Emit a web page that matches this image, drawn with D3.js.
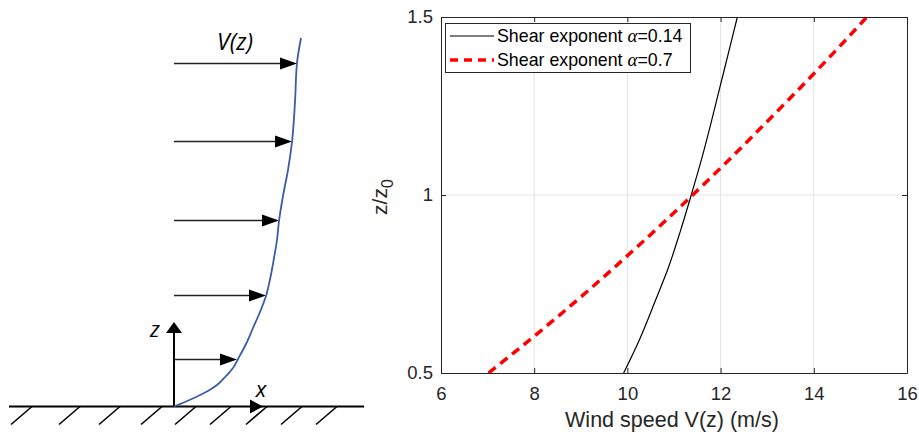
<!DOCTYPE html>
<html>
<head>
<meta charset="utf-8">
<script src="https://cdn.jsdelivr.net/npm/d3@7"></script>
<style>
body { margin: 0; background: #fff; }
svg { display: block; font-family: "Liberation Sans", Arial, sans-serif; }
</style>
</head>
<body>
<div id="chart"></div>
<script>
// Right panel: height ratio z/z0 and wind speed
var zRatio = [0.5, 0.6, 0.7, 0.8, 0.9, 1.0, 1.1, 1.2, 1.3, 1.4, 1.5];
var speedLow = [9.92, 10.28, 10.59, 10.89, 11.14, 11.37, 11.59, 11.79, 11.98, 12.17, 12.36];   // alpha = 0.14
var speedHigh = [7.02, 7.97, 8.88, 9.75, 10.59, 11.40, 12.19, 12.95, 13.70, 14.43, 15.14];   // alpha = 0.7
var xTicks = [6, 8, 10, 12, 14, 16];
var yTicks = [0.5, 1, 1.5];
var seriesNames = ["Shear exponent ", "Shear exponent "];
var seriesAlpha = ["=0.14", "=0.7"];

// Left sketch: profile shape and velocity arrows (sketch units)
var profileH = [0, 4.5, 9.5, 15, 21.5, 30.5, 38.5, 47.5, 62.5, 78.5, 94.5, 110.5, 129.5, 148.5, 166.5, 185.5, 210.5, 236.5, 264.5, 304.5, 343.5, 368.5];
var profileV = [0, 11, 22, 33, 43, 52, 59, 64, 72, 79, 86, 92, 96.5, 100, 103, 105, 109, 114, 118, 121, 123, 127];
var arrowH = [343, 265, 186, 111, 47];
var arrowV = [123, 118, 105, 92, 63];
var hatchX = [32, 80, 120, 162, 196, 231, 267, 302, 337];

var svgWidth = 919;
var svgHeight = 434;

var svg = d3.select("#chart").append("svg")
    .attr("width", svgWidth)
    .attr("height", svgHeight);

svg.append("rect").attr("width", svgWidth).attr("height", svgHeight).attr("fill", "#fff");

// ---------- left sketch ----------
var sketch = svg.append("g");
var sx = d3.scaleLinear().domain([0, 130]).range([174, 304]);
var sz = d3.scaleLinear().domain([0, 370]).range([406.5, 36.5]);

function head(g, tipX, tipY, dx, dy, len, half) {
    // dx, dy: unit direction of the arrow
    var bx = tipX - dx * len, by = tipY - dy * len;
    var px = -dy * half, py = dx * half;
    g.append("path")
        .attr("d", `M${tipX},${tipY}L${bx + px},${by + py}L${bx - px},${by - py}Z`)
        .attr("fill", "#000");
}

// ground and hatching
sketch.append("line")
    .attr("x1", 9).attr("x2", 364)
    .attr("y1", sz(0)).attr("y2", sz(0))
    .attr("stroke", "#000").attr("stroke-width", 2);

sketch.selectAll(".hatch")
    .data(hatchX)
    .enter()
    .append("line")
    .attr("class", "hatch")
    .attr("x1", d => d).attr("y1", sz(0))
    .attr("x2", d => d - 21).attr("y2", sz(0) + 18)
    .attr("stroke", "#000").attr("stroke-width", 1.6);

// coordinate axes
sketch.append("line")
    .attr("x1", sx(0)).attr("x2", sx(0))
    .attr("y1", sz(0)).attr("y2", 332)
    .attr("stroke", "#000").attr("stroke-width", 2);
head(sketch, sx(0), 322, 0, -1, 11, 8);
head(sketch, 263, sz(0), 1, 0, 13, 7);

sketch.append("text")
    .attr("x", 155).attr("y", 337)
    .attr("text-anchor", "middle")
    .attr("font-family", "Open Sans, sans-serif")
    .attr("font-size", 22)
    .attr("font-style", "italic")
    .text("z");

sketch.append("text")
    .attr("x", 261).attr("y", 397)
    .attr("text-anchor", "middle")
    .attr("font-family", "Open Sans, sans-serif")
    .attr("font-size", 22)
    .attr("font-style", "italic")
    .text("x");

sketch.append("text")
    .attr("x", 235).attr("y", 50)
    .attr("text-anchor", "middle")
    .attr("font-family", "Open Sans, sans-serif")
    .attr("font-size", 23)
    .attr("font-style", "italic")
    .text("V(z)");

// velocity arrows
arrowH.forEach(function(h, i) {
    var y = sz(h);
    var tip = sx(arrowV[i]);
    sketch.append("line")
        .attr("x1", sx(0)).attr("x2", tip - 10)
        .attr("y1", y).attr("y2", y)
        .attr("stroke", "#222").attr("stroke-width", 1.3);
    head(sketch, tip, y, 1, 0, 17, 6);
});

// profile curve
var profile = profileH.map((h, i) => ({h: h, v: profileV[i]}));
sketch.append("path")
    .datum(profile)
    .attr("d", d3.line().x(d => sx(d.v)).y(d => sz(d.h)).curve(d3.curveMonotoneY))
    .attr("fill", "none")
    .attr("stroke", "#3b5ca6")
    .attr("stroke-width", 1.8);

// ---------- right chart ----------
var margins = {left: 441, top: 17, right: 907, bottom: 373};
var x = d3.scaleLinear().domain([6, 16]).range([margins.left, margins.right]);
var y = d3.scaleLinear().domain([0.5, 1.5]).range([margins.bottom, margins.top]);
var axisColor = "#262626";

var chartGroup = svg.append("g");

// grid
chartGroup.selectAll(".xgrid")
    .data(xTicks.slice(1, -1))
    .enter()
    .append("line")
    .attr("x1", d => x(d)).attr("x2", d => x(d))
    .attr("y1", y(0.5)).attr("y2", y(1.5))
    .attr("stroke", "#e3e3e3").attr("stroke-width", 1);

chartGroup.selectAll(".ygrid")
    .data(yTicks.slice(1, -1))
    .enter()
    .append("line")
    .attr("x1", x(6)).attr("x2", x(16))
    .attr("y1", d => y(d)).attr("y2", d => y(d))
    .attr("stroke", "#e3e3e3").attr("stroke-width", 1);

// curves
var lowData = zRatio.map((z, i) => ({z: z, v: speedLow[i]}));
var highData = zRatio.map((z, i) => ({z: z, v: speedHigh[i]}));
var lineGen = d3.line().x(d => x(d.v)).y(d => y(d.z)).curve(d3.curveMonotoneY);

chartGroup.append("path")
    .datum(lowData)
    .attr("d", lineGen)
    .attr("fill", "none")
    .attr("stroke", "#000")
    .attr("stroke-width", 1.2);

chartGroup.append("path")
    .datum(highData)
    .attr("d", lineGen)
    .attr("fill", "none")
    .attr("stroke", "#ff0000")
    .attr("stroke-width", 3.5)
    .attr("stroke-dasharray", "9,6");

// axes with inward ticks
function styleAxis(g) {
    g.selectAll("path, line").attr("stroke", axisColor);
    g.selectAll("text")
        .attr("fill", axisColor)
        .attr("font-size", 18.5)
        .attr("font-family", "Liberation Sans, Arial, sans-serif");
}

var bottomAxis = d3.axisBottom(x).tickValues(xTicks).tickSizeInner(-5).tickSizeOuter(0).tickPadding(14);
var topAxis = d3.axisTop(x).tickValues(xTicks).tickSizeInner(-5).tickSizeOuter(0).tickFormat("");
var leftAxis = d3.axisLeft(y).tickValues(yTicks).tickSizeInner(-5).tickSizeOuter(0).tickPadding(8).tickFormat(d3.format("~g"));
var rightAxis = d3.axisRight(y).tickValues(yTicks).tickSizeInner(-5).tickSizeOuter(0).tickFormat("");

chartGroup.append("g").attr("transform", `translate(0, ${margins.bottom})`).call(bottomAxis).call(styleAxis);
chartGroup.append("g").attr("transform", `translate(0, ${margins.top})`).call(topAxis).call(styleAxis);
chartGroup.append("g").attr("transform", `translate(${margins.left}, 0)`).call(leftAxis).call(styleAxis);
chartGroup.append("g").attr("transform", `translate(${margins.right}, 0)`).call(rightAxis).call(styleAxis);

// axis labels
chartGroup.append("text")
    .attr("x", x(11) - 2).attr("y", 427)
    .attr("text-anchor", "middle")
    .attr("font-size", 21.5)
    .attr("fill", axisColor)
    .text("Wind speed V(z) (m/s)");

var yLabel = chartGroup.append("text")
    .attr("transform", `translate(387, ${y(1) + 2}) rotate(-90)`)
    .attr("text-anchor", "middle")
    .attr("font-size", 21)
    .attr("fill", axisColor);
yLabel.append("tspan").text("z/z");
yLabel.append("tspan").attr("dy", 6).attr("font-size", 16).text("0");

// legend
var legend = chartGroup.append("g");
legend.append("rect")
    .attr("x", 445.5).attr("y", 23.5)
    .attr("width", 245).attr("height", 49)
    .attr("fill", "#fff")
    .attr("stroke", axisColor)
    .attr("stroke-width", 1);

var legendStyles = [
    {color: "#000", width: 1.2, dash: null},
    {color: "#ff0000", width: 3.5, dash: "8,6"}
];

seriesNames.forEach(function(name, i) {
    var ly = 36 + i * 24;
    legend.append("line")
        .attr("x1", 450).attr("x2", 494)
        .attr("y1", ly).attr("y2", ly)
        .attr("stroke", legendStyles[i].color)
        .attr("stroke-width", legendStyles[i].width)
        .attr("stroke-dasharray", legendStyles[i].dash);
    var t = legend.append("text")
        .attr("x", 497).attr("y", ly + 6)
        .attr("font-size", 17.8)
        .attr("fill", "#000");
    t.append("tspan").text(name);
    t.append("tspan")
        .attr("font-family", "Liberation Serif, Times New Roman, serif")
        .attr("font-style", "italic")
        .attr("font-size", 19)
        .text("α");
    t.append("tspan").text(seriesAlpha[i]);
});
</script>
</body>
</html>
